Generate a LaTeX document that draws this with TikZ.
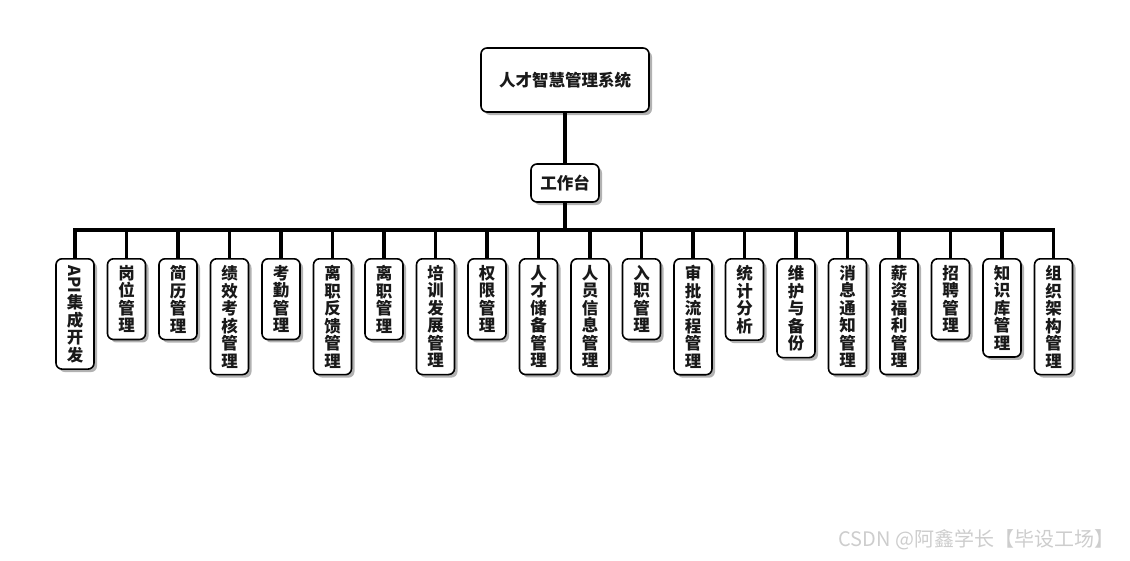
\documentclass[tikz,border=0pt]{standalone}
\usepackage{fontspec}
\setmainfont{Noto Sans CJK SC}
\usetikzlibrary{shadows}
\definecolor{ink}{RGB}{25,25,25}
\definecolor{mark}{RGB}{205,205,205}

\begin{document}
\begin{tikzpicture}[x=1pt, y=-1pt,
    box/.style={draw=black, line width=1.6pt, fill=white, rounded corners=6pt,
      text=ink, font=\bfseries\fontsize{16.5pt}{17.5pt}\selectfont,
      drop shadow={shadow xshift=3pt, shadow yshift=-3pt, fill=black!60, opacity=0.5}},
    leaf/.style={box, anchor=north, minimum width=38pt, inner xsep=1pt,
      inner ysep=6.5pt, align=center},
    wire/.style={line width=3.5pt, color=black}]
  \useasboundingbox (0,0) rectangle (1130,560);

  % ---- top of the tree --------------------------------------------------------
  \node[box, minimum width=168pt, minimum height=64pt] (root) at (565,80)
    {人才智慧管理系统};
  \node[box, minimum width=68pt, minimum height=38pt] (desk) at (565,183) {工作台};
  \coordinate (bus) at (565,230);

  % ---- the twenty modules, written top to bottom ------------------------------
  \foreach \lab [count=\i] in {
      {\rotatebox[origin=c]{-90}{API}\\集\\成\\开\\发},
      {岗\\位\\管\\理}, {简\\历\\管\\理}, {绩\\效\\考\\核\\管\\理},
      {考\\勤\\管\\理}, {离\\职\\反\\馈\\管\\理}, {离\\职\\管\\理},
      {培\\训\\发\\展\\管\\理}, {权\\限\\管\\理}, {人\\才\\储\\备\\管\\理},
      {人\\员\\信\\息\\管\\理}, {入\\职\\管\\理}, {审\\批\\流\\程\\管\\理},
      {统\\计\\分\\析}, {维\\护\\与\\备\\份}, {消\\息\\通\\知\\管\\理},
      {薪\\资\\福\\利\\管\\理}, {招\\聘\\管\\理}, {知\\识\\库\\管\\理},
      {组\\织\\架\\构\\管\\理}} {
    \node[leaf] (c\i) at ({75+(\i-1)*51.5},258) {\lab};
    \draw[wire] (c\i.north) -- (c\i.north |- bus);
  }

  % ---- connectors -------------------------------------------------------------
  \draw[wire] (root) -- (desk);
  \draw[wire] (desk) -- (desk |- bus);
  \draw[wire, line cap=rect] (c1.north |- bus) -- (c20.north |- bus);

  \node[font=\fontsize{20pt}{20pt}\selectfont, text=mark, anchor=east] (mark)
    at (1118,540) {CSDN @阿鑫学长【毕设工场】};
\end{tikzpicture}
\end{document}
